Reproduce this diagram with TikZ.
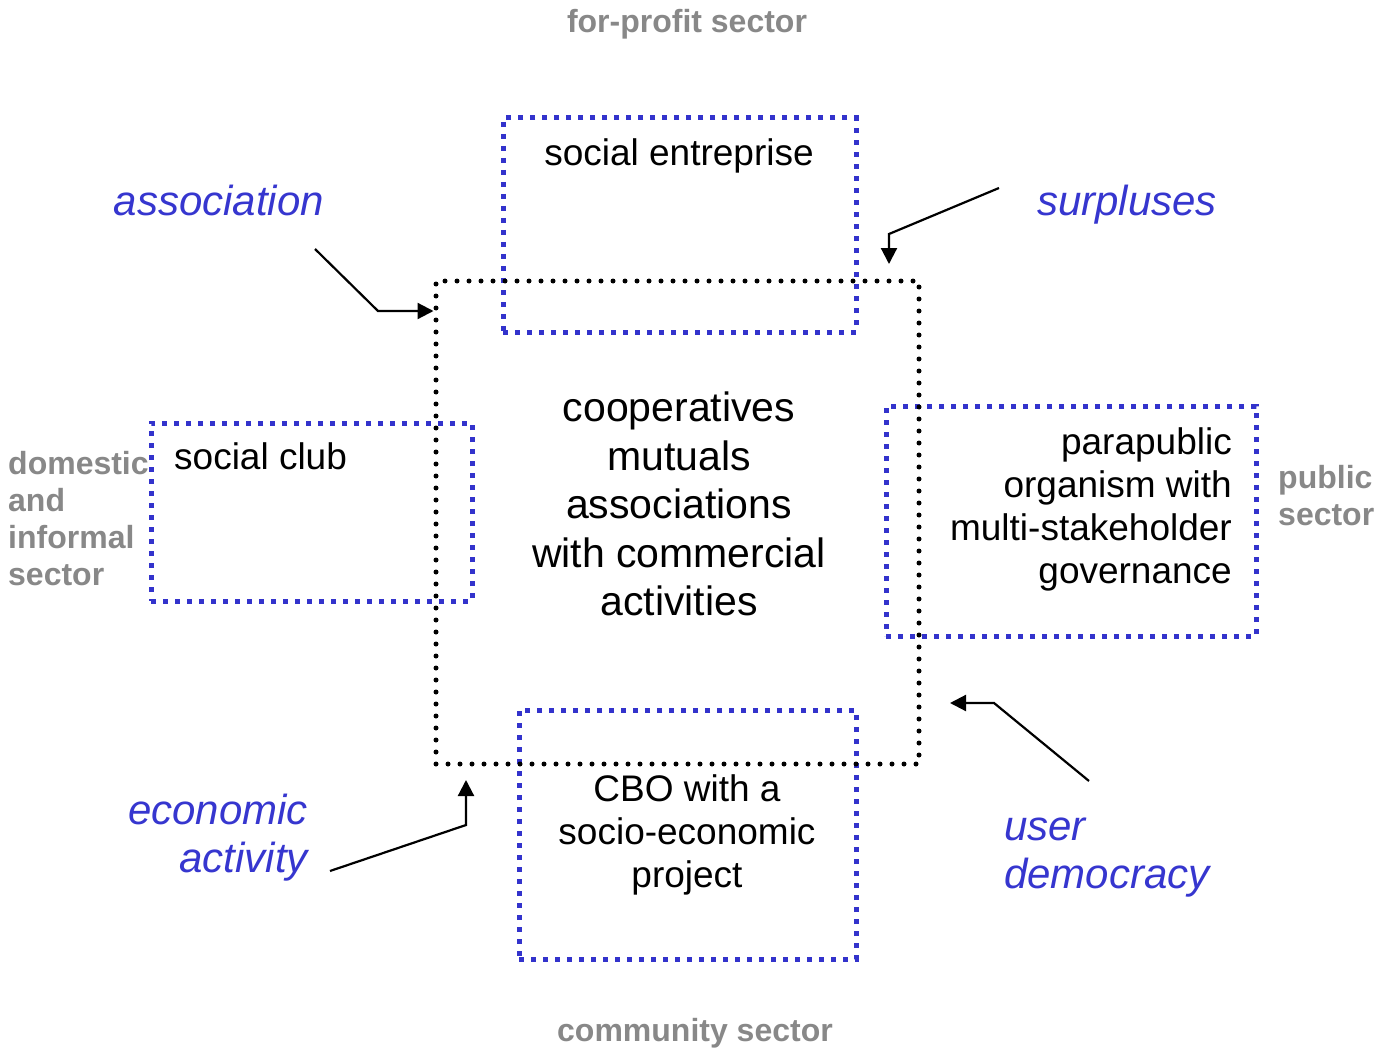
\documentclass[tikz,border=0pt]{standalone}
\usepackage{fontspec}
\setmainfont{Liberation Sans}
\usetikzlibrary{arrows.meta}
\definecolor{dotblue}{HTML}{3333CC}
\definecolor{labblue}{HTML}{3636CF}
\definecolor{secgray}{HTML}{888888}
\tikzset{
  corebox/.style={draw=black, line width=5pt, dash pattern=on 0pt off 12pt, line cap=round, fill=none, inner sep=0pt},
  bluebox/.style={draw=dotblue, line width=5pt, dash pattern=on 5pt off 7pt, fill=none, inner sep=0pt},
  boxtext/.style={font=\fontsize{37}{43}\selectfont, inner sep=0pt},
  coretext/.style={font=\fontsize{41}{48.5}\selectfont, align=center, inner sep=0pt},
  bluelab/.style={font=\fontsize{42}{48}\selectfont\itshape, text=labblue, inner sep=0pt},
  seclab/.style={font=\fontsize{32}{37}\selectfont\bfseries, text=secgray, inner sep=0pt},
  conn/.style={draw=black, line width=2.2pt, -{Triangle[length=16pt,width=16pt]}}
}
\begin{document}
\begin{tikzpicture}[x=1pt,y=-1pt]
\useasboundingbox (0,0) rectangle (1392,1051);
\fill[white] (0,0) rectangle (1392,1051);
% boxes
\node[bluebox, minimum width=353pt, minimum height=214pt] (se) at (679.5,225) {};
\node[bluebox, minimum width=321pt, minimum height=178pt] (sc) at (311.5,512) {};
\node[bluebox, minimum width=370pt, minimum height=230pt] (pp) at (1071,521) {};
\node[bluebox, minimum width=337pt, minimum height=249pt] (cbo) at (687.5,834.5) {};
\node[corebox, minimum width=483pt, minimum height=483pt] (core) at (677.5,522.5) {};
% box texts
\node[boxtext, anchor=base] (set) at (679,166) {social entreprise};
\node[boxtext, anchor=base west] (sct) at (174,469) {social club};
\node[boxtext, align=right, anchor=north east] (ppt) at (1232,427) {parapublic\\organism with\\multi-stakeholder\\governance};
\node[boxtext, align=center, anchor=north] (cbot) at (687,774) {CBO with a\\socio-economic\\project};
\node[coretext, anchor=north] (coret) at (679,392) {cooperatives\\mutuals\\associations\\with commercial\\activities};
% blue labels
\node[bluelab, anchor=base] (assoc) at (219,216) {association};
\node[bluelab, anchor=base] (surp) at (1127,216) {surpluses};
\node[bluelab, align=right, anchor=north east] (econ) at (308,794) {economic\\activity};
\node[bluelab, align=left, anchor=north west] (user) at (1004,818) {user\\democracy};
% sector labels
\node[seclab, anchor=base] (fps) at (687,33) {for-profit sector};
\node[seclab, anchor=base] (cms) at (695,1041) {community sector};
\node[seclab, align=left, anchor=north west] (dis) at (8,451) {domestic\\and\\informal\\sector};
\node[seclab, align=left, anchor=north west] (pub) at (1278,465) {public\\sector};
% connectors
\coordinate (a1) at (315,249);
\coordinate (a2) at (378,311);
\draw[conn] (a1) -- (a2) -- (a2 -| core.west);
\coordinate (s1) at (999,188);
\coordinate (s2) at (889,234);
\coordinate (s3) at (889,264);
\draw[conn] (s1) -- (s2) -- (s3);
\coordinate (u1) at (1089,781);
\coordinate (u2) at (994,703);
\coordinate (u3) at (950,703);
\draw[conn] (u1) -- (u2) -- (u3);
\coordinate (e1) at (330,871);
\coordinate (e2) at (466,825);
\coordinate (e3) at (466,780);
\draw[conn] (e1) -- (e2) -- (e3);
\end{tikzpicture}
\end{document}
